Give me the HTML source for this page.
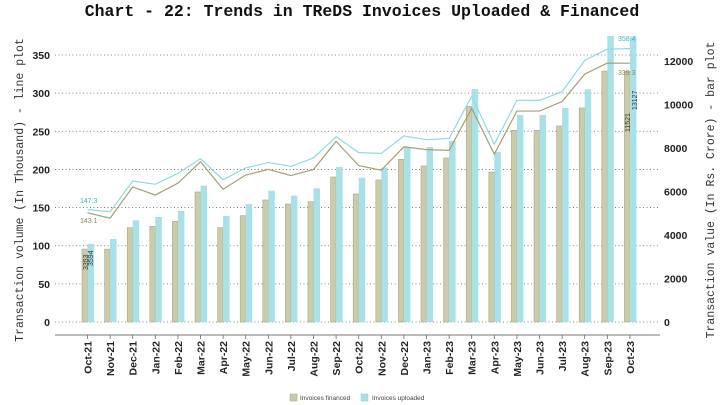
<!DOCTYPE html>
<html><head><meta charset="utf-8"><style>
body{margin:0;background:#fff;}
svg{display:block;}
.tk{font-family:"Liberation Sans",sans-serif;font-weight:bold;font-size:10.5px;fill:#222;}
.mono{font-family:"Liberation Mono",monospace;}
</style></head><body>
<svg id="chart" width="725" height="405" xmlns="http://www.w3.org/2000/svg">
<text x="362" y="16" text-anchor="middle" class="mono" font-weight="bold" font-size="16.5" fill="#111">Chart - 22: Trends in TReDS Invoices Uploaded &amp; Financed</text>
<text transform="translate(23,190) rotate(-90)" text-anchor="middle" class="mono" font-size="11.5" fill="#333">Transaction volume (In Thousand) - line plot</text>
<text transform="translate(714,190) rotate(-90)" text-anchor="middle" class="mono" font-size="11.5" fill="#333">Transaction value (In Rs. Crore) - bar plot</text>
<g id="grid"></g><g id="bars"></g><g id="lines"></g><g id="axes"></g><g id="labels"></g>
<g>
<rect x="290" y="394" width="7" height="7" fill="#c9c9a8" stroke="#a8a880" stroke-width="0.5"/>
<text x="300" y="400" font-family="Liberation Sans,sans-serif" font-size="6.5" fill="#444">Invoices financed</text>
<rect x="361" y="394" width="7" height="7" fill="#a5e2e8" stroke="#7fd0d8" stroke-width="0.5"/>
<text x="372" y="400" font-family="Liberation Sans,sans-serif" font-size="6.5" fill="#444">Invoices uploaded</text>
</g>
</svg>
<script>
const categories=["Oct-21","Nov-21","Dec-21","Jan-22","Feb-22","Mar-22","Apr-22","May-22","Jun-22","Jul-22","Aug-22","Sep-22","Oct-22","Nov-22","Dec-22","Jan-23","Feb-23","Mar-23","Apr-23","May-23","Jun-23","Jul-23","Aug-23","Sep-23","Oct-23"];
const financedValue=[3353,3350,4337,4400,4630,5977,4337,4888,5610,5426,5533,6667,5885,6530,7480,7173,7541,9916,6897,8814,8814,9012,9840,11541,11521];
const uploadedValue=[3594,3817,4676,4828,5104,6267,4874,5426,6037,5808,6148,7127,6636,7096,8062,8046,8322,10713,7817,9518,9518,9840,10700,13200,13127];
const financedVolume=[143.1,136,177,166.4,182,210,174,192.7,200,192,200,236.8,205,199,229.7,226,225,280,220,276.5,276.5,289,325,339.4,339.3];
const uploadedVolume=[147.3,144.6,184.8,180.5,194.9,214,186.5,202,209,204,215,243,222,221,244,239,240.7,296,233,290.5,290.5,302,343,357.8,358.4];
const leftTicks=[0,50,100,150,200,250,300,350];
const rightTicks=[0,2000,4000,6000,8000,10000,12000];

const NS="http://www.w3.org/2000/svg";
const x0=87.5,step=22.6;
const xPos=i=>x0+i*step;
const yL=v=>322-v*(267/350);
const yR=v=>Math.max(36,322-v*(261/12000));
function mk(tag,attrs,parent,txt){const e=document.createElementNS(NS,tag);for(const k in attrs)e.setAttribute(k,attrs[k]);if(txt!==undefined)e.textContent=txt;document.getElementById(parent).appendChild(e);return e;}

leftTicks.forEach(t=>{
  const l=mk('line',{x1:55,x2:660,y1:yL(t),y2:yL(t),stroke:'#666','stroke-width':0.8,'stroke-dasharray':'1,2.5'},'grid');
  
  
  const tx=mk('text',{x:50,y:yL(t)+4,'text-anchor':'end',class:'tk'},'axes',t);
  
  
});
rightTicks.forEach(t=>{
  const tx=mk('text',{x:664,y:yR(t)+4,class:'tk'},'axes',t);
  
  
});
categories.forEach((c,i)=>{
  const x=xPos(i);
  const b1=mk('rect',{x:x-5.5,y:yR(financedValue[i]),width:5.5,height:322-yR(financedValue[i]),fill:'#cacbaa',stroke:'#a9aa80','stroke-width':0.6},'bars');
  
  
  const b2=mk('rect',{x:x,y:yR(uploadedValue[i]),width:6.5,height:322-yR(uploadedValue[i]),fill:'#a8e2e8'},'bars');
  
  
  mk('line',{x1:x,x2:x,y1:335,y2:339,stroke:'#666','stroke-width':0.8},'axes');
  const tl=mk('text',{transform:`translate(${x+4},341) rotate(-90)`,'text-anchor':'end',class:'tk'},'axes',c);
  
  
});
const ax=mk('line',{x1:55,x2:660,y1:335,y2:335,stroke:'#777','stroke-width':1},'axes');



const p1=mk('polyline',{points:uploadedVolume.map((v,i)=>xPos(i)+','+yL(v)).join(' '),fill:'none',stroke:'#8fdbe2','stroke-width':1.2},'lines');


const p2=mk('polyline',{points:financedVolume.map((v,i)=>xPos(i)+','+yL(v)).join(' '),fill:'none',stroke:'#a3a070','stroke-width':1.2},'lines');



const n=categories.length-1;
function lab(txt,x,y,col,rot,name){
  const t=mk('text',{transform:rot?`translate(${x},${y}) rotate(-90)`:`translate(${x},${y})`,'font-family':'Liberation Sans,sans-serif','font-size':7,fill:col},'labels',txt);
  
  
}
lab(uploadedVolume[0],80,203,'#3bb5c4',false,'label-uploaded-volume-first');
lab(financedVolume[0],80,223,'#8a8a5a',false,'label-financed-volume-first');
lab(uploadedVolume[n],618,41,'#3bb5c4',false,'label-uploaded-volume-last');
lab(financedVolume[n],618,75,'#8a8a5a',false,'label-financed-volume-last');
lab(financedValue[0],88,270,'#333',true,'label-financed-value-first');
lab(uploadedValue[0],93,266,'#333',true,'label-uploaded-value-first');
lab(financedValue[n],630,132,'#333',true,'label-financed-value-last');
lab(uploadedValue[n],637,110,'#333',true,'label-uploaded-value-last');
</script>
</body></html>
